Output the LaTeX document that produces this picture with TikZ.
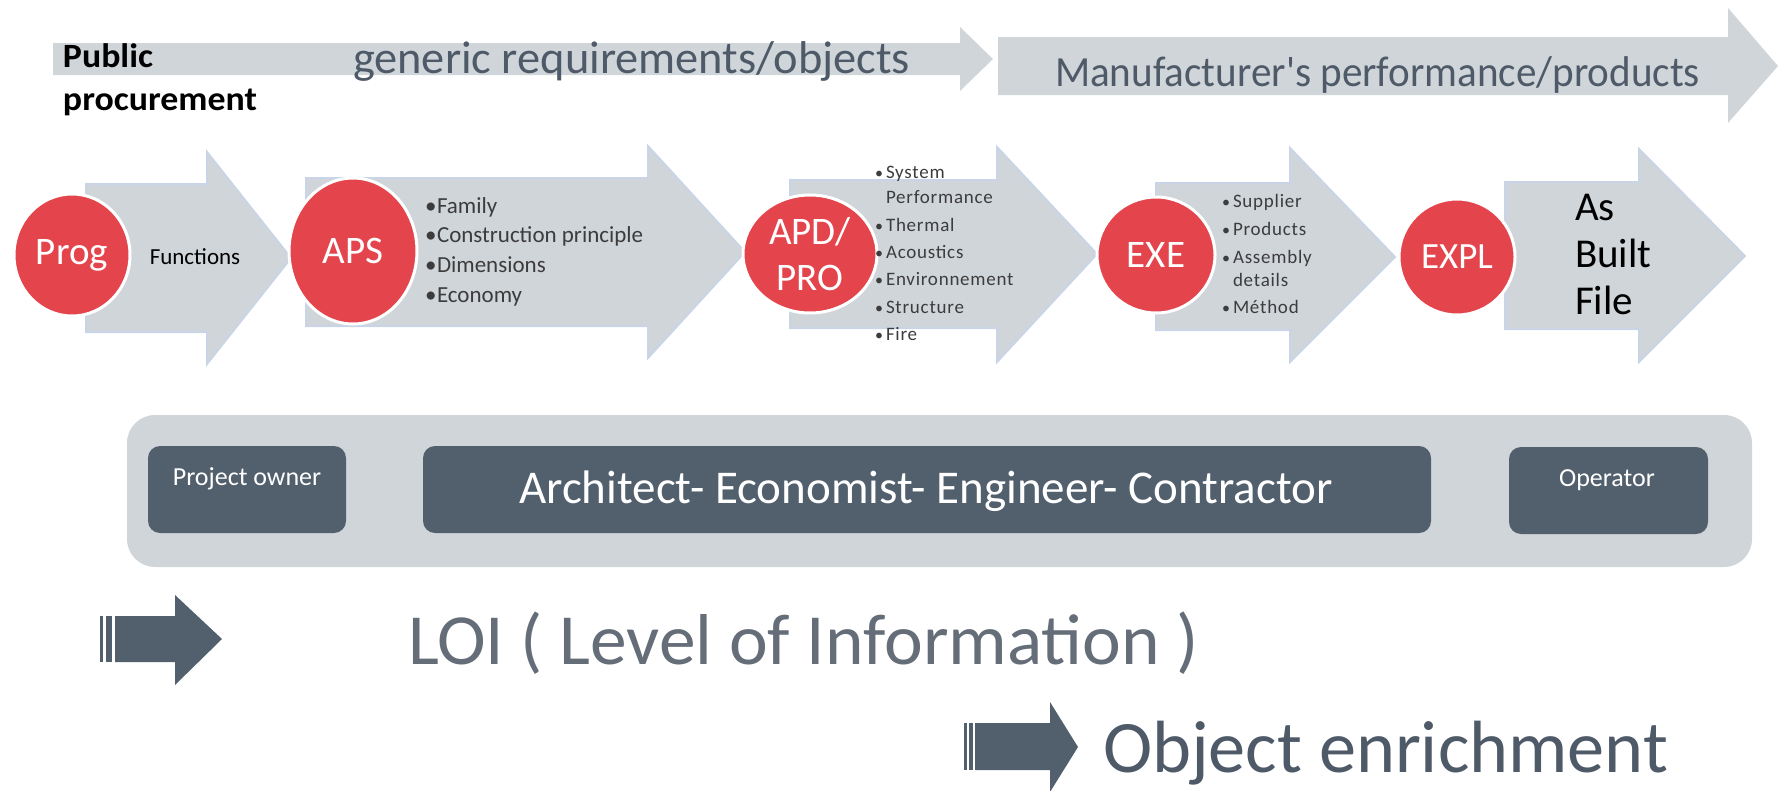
\documentclass[tikz,border=0pt]{standalone}
\usepackage{fontspec}
\setmainfont{Carlito}
\newfontfamily\lsfont[LetterSpace=4]{Carlito}
\usetikzlibrary{shapes.geometric}
\definecolor{chev}{HTML}{D0D5DA}
\definecolor{chevline}{HTML}{C9D5E6}
\definecolor{redc}{HTML}{E4444C}
\definecolor{slate}{HTML}{525F6D}
\definecolor{slatetext}{HTML}{4E5A68}
\definecolor{loic}{HTML}{646D78}
\definecolor{listc}{HTML}{3C3C3C}
\newcommand\fsz[1]{\fontsize{#1}{#1}\selectfont}
\newcommand\fitw[2]{\resizebox{#1pt}{\height}{#2}}
\newcommand\chev[8]{\path[chevron] (#1,#2) -- (#4,#2) -- (#4,#5) -- (#7,#8) -- (#4,#6) -- (#4,#3) -- (#1,#3) -- cycle;}
\newcommand\toparr[8]{\path[toparrow] (#1,#2) -- (#4,#2) -- (#4,#5) -- (#7,#8) -- (#4,#6) -- (#4,#3) -- (#1,#3) -- cycle;}
\begin{document}
\begin{tikzpicture}[x=1pt,y=-1pt,inner sep=0pt,outer sep=0pt,
  chevron/.style={fill=chev,draw=chevline,line width=2pt,line join=miter},
  toparrow/.style={fill=chev},
  darkarrow/.style={fill=slate},
  phase/.style={ellipse,fill=redc,draw=white,line width=3pt,text=white,font=\fsz{39}},
  txt/.style={anchor=base west},
  apslist/.style={anchor=base west,text=listc,font=\fsz{23}},
  lslist/.style={anchor=base west,text=listc,font=\lsfont\fsz{19}},
  lsbullet/.style={anchor=base west,text=listc,font=\fsz{16}},
  rolebox/.style={fill=slate,rounded corners=12pt,anchor=north west},
  roletext/.style={anchor=base,text=white}]
\useasboundingbox (0,0) rectangle (1778,790);
% top arrows
\toparr{53}{43}{75}{960}{27}{91}{993}{59}
\toparr{998}{37}{95}{1728}{8}{123}{1778}{66}
\node[txt,font=\bfseries\fsz{34}] (pub) at (63,67) {\fitw{90}{Public}};
\node[txt,font=\bfseries\fsz{34}] (proc) at (63,110) {\fitw{194}{procurement}};
\node[txt,text=slatetext,font=\fsz{46}] (gen) at (353,73) {\fitw{557}{generic requirements/objects}};
\node[txt,text=slatetext,font=\fsz{43}] (manu) at (1055,86) {\fitw{645}{Manufacturer\textquotesingle s performance/products}};
% chevrons
\chev{86}{184}{332}{207}{152}{364}{291}{258}
\chev{306}{178}{326}{648}{146}{358}{745}{252}
\chev{790}{180}{328}{997}{147}{362}{1097}{254}
\chev{1156}{183}{330}{1290}{148}{362}{1395}{257}
\chev{1505}{182}{329}{1639}{149}{362}{1745}{256}
% phases
\node[phase,minimum width=116,minimum height=122] (prog) at (72,255) {Prog};
\node[phase,minimum width=128,minimum height=146] (aps) at (353,251) {APS};
\node[phase,minimum width=134,minimum height=118,align=center,font=\fontsize{39}{46}\selectfont] (apd) at (810,254) {APD/\\PRO};
\node[phase,minimum width=118,minimum height=116] (exe) at (1156,255) {EXE};
\node[phase,minimum width=116,minimum height=116,font=\fsz{37}] (expl) at (1457,257) {EXPL};
% contents
\node[font=\fsz{23}] (fn) at (195,257) {Functions};
\node[apslist] (b1) at (425,213) {•};
\node[apslist] (l1) at (437,213) {Family};
\node[apslist] (b2) at (425,242) {•};
\node[apslist] (l2) at (437,242) {Construction principle};
\node[apslist] (b3) at (425,272) {•};
\node[apslist] (l3) at (437,272) {Dimensions};
\node[apslist] (b4) at (425,302) {•};
\node[apslist] (l4) at (437,302) {Economy};
\node[lsbullet] (c1) at (875,178) {•};
\node[lslist] (m1) at (886,178) {System};
\node[lslist] (m1b) at (886,203) {Performance};
\node[lsbullet] (c2) at (875,231) {•};
\node[lslist] (m2) at (886,231) {Thermal};
\node[lsbullet] (c3) at (875,258) {•};
\node[lslist] (m3) at (886,258) {Acoustics};
\node[lsbullet] (c4) at (875,285) {•};
\node[lslist] (m4) at (886,285) {Environnement};
\node[lsbullet] (c5) at (875,313) {•};
\node[lslist] (m5) at (886,313) {Structure};
\node[lsbullet] (c6) at (875,340) {•};
\node[lslist] (m6) at (886,340) {Fire};
\node[lsbullet] (d1) at (1222,207) {•};
\node[lslist] (e1) at (1233,207) {Supplier};
\node[lsbullet] (d2) at (1222,235) {•};
\node[lslist] (e2) at (1233,235) {Products};
\node[lsbullet] (d3) at (1222,263) {•};
\node[lslist] (e3) at (1233,263) {Assembly};
\node[lslist] (e3b) at (1233,286) {details};
\node[lsbullet] (d4) at (1222,313) {•};
\node[lslist] (e4) at (1233,313) {Méthod};
\node[txt,font=\fsz{41}] (as) at (1575,220) {As};
\node[txt,font=\fsz{41}] (built) at (1575,267) {Built};
\node[txt,font=\fsz{41}] (file) at (1575,314) {File};
% actors panel
\node[fill=chev,rounded corners=28pt,minimum width=1625,minimum height=152,anchor=north west] (panel) at (127,415) {};
\node[rolebox,minimum width=198,minimum height=87] (owner) at (148,446) {};
\node[rolebox,minimum width=1008,minimum height=87] (aeec) at (423,446) {};
\node[rolebox,minimum width=199,minimum height=87] (oper) at (1509,447) {};
\node[roletext,font=\fsz{26}] (ownert) at (247,485) {Project owner};
\node[roletext,font=\fsz{47}] (aeect) at (926,503) {Architect- Economist- Engineer- Contractor};
\node[roletext,font=\fsz{26}] (opert) at (1607,486) {Operator};
% LOI
\fill[darkarrow] (100,616) rectangle (103,662);
\fill[darkarrow] (106,616) rectangle (112,662);
\path[darkarrow] (115,616) -- (175,616) -- (175,595) -- (222,639) -- (175,685) -- (175,662) -- (115,662) -- cycle;
\node[txt,text=loic,font=\fsz{72}] (loi) at (408,664) {\fitw{791}{LOI ( Level of Information )}};
\fill[darkarrow] (964,723) rectangle (967,770);
\fill[darkarrow] (969,723) rectangle (973,770);
\path[darkarrow] (975,723) -- (1050,723) -- (1050,702) -- (1078,747) -- (1050,792) -- (1050,770) -- (975,770) -- cycle;
\node[txt,text=slatetext,font=\fsz{74}] (obj) at (1103,772) {\fitw{565}{Object enrichment}};
\end{tikzpicture}
\end{document}
